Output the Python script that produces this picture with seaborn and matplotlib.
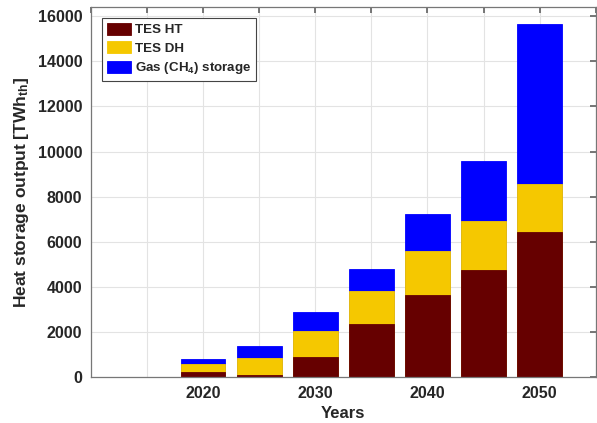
import matplotlib
matplotlib.use("Agg")
import matplotlib.pyplot as plt
import seaborn as sns
import pandas as pd
import numpy as np

sns.set_theme(style="whitegrid")
plt.rcParams["font.family"] = ["Liberation Sans", "DejaVu Sans"]
plt.rcParams["font.weight"] = "bold"
plt.rcParams["mathtext.default"] = "regular"

# data (TWh_th per component)
years = [2020, 2025, 2030, 2035, 2040, 2045, 2050]
tes_ht = [235, 100, 920, 2370, 3640, 4775, 6435]
tes_dh = [365, 756, 1134, 1473, 1964, 2147, 2128]
gas_ch4 = [200, 519, 821, 949, 1628, 2662, 7100]

labels = ["TES HT", "TES DH", "Gas (CH$_4$) storage"]
colors = ["#660000", "#F5C800", "#0000FF"]

df = pd.DataFrame({"Year": years, "TES HT": tes_ht, "TES DH": tes_dh, "Gas": gas_ch4})
df["cum_ht"] = df["TES HT"]
df["cum_dh"] = df["cum_ht"] + df["TES DH"]
df["cum_gas"] = df["cum_dh"] + df["Gas"]

fig = plt.figure(figsize=(5.97, 4.23), dpi=100)
ax = fig.add_axes([0.152, 0.108, 0.846, 0.875])

# stacked bars drawn as overlapping cumulative totals
for col, lab, c in zip(["cum_gas", "cum_dh", "cum_ht"], labels[::-1], colors[::-1]):
    sns.barplot(data=df, x="Year", y=col, native_scale=True, width=0.8,
                color=c, saturation=1, edgecolor=c, linewidth=0.6,
                label=lab, ax=ax, zorder=2)

ax.set_xlim(2010, 2055)
ax.set_ylim(0, 16400)
ax.set_xticks(np.arange(2010, 2056, 5))
ax.set_xticklabels(["" if y % 10 or y == 2010 else str(y) for y in range(2010, 2056, 5)])
ax.set_yticks(np.arange(0, 16001, 2000))
ax.tick_params(direction="in", top=True, right=True, length=4, color="#666666",
               labelsize=11.5, pad=6, labelcolor="#262626")
for t in ax.get_xticklabels() + ax.get_yticklabels():
    t.set_fontweight("bold")

ax.grid(True, color="#e3e3e3", linewidth=0.8, zorder=0)
ax.set_axisbelow(True)
for s in ax.spines.values():
    s.set_color("#777777")
    s.set_linewidth(0.9)

ax.set_xlabel("Years", fontsize=12, fontweight="bold", color="#262626", labelpad=4)
ax.set_ylabel("Heat storage output [TWh$_{th}$]", fontsize=12.5, fontweight="bold",
              color="#262626", labelpad=5)

handles, labs = ax.get_legend_handles_labels()
order = [labs.index(l) for l in labels]
leg = ax.legend([handles[i] for i in order], labels, loc="upper left",
                bbox_to_anchor=(0.0225, 0.971), frameon=True, fancybox=False,
                edgecolor="#444444", framealpha=1, handlelength=1.85, handleheight=1.0,
                handletextpad=0.25, borderpad=0.35, borderaxespad=0, labelspacing=0.4,
                prop={"weight": "bold", "size": 9.6})
leg.get_frame().set_linewidth(0.8)

fig.savefig("out.png", dpi=100)
